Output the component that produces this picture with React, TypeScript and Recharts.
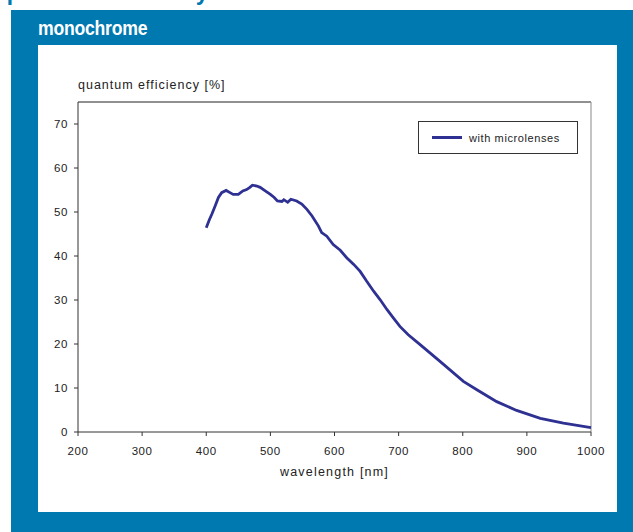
import React from "react";
import { LineChart, Line, XAxis, YAxis, ReferenceLine } from "recharts";

const wavelengths = [
  400, 405, 409, 414, 419, 424, 431, 437, 442, 450, 457, 463, 468, 472, 479, 484, 492, 500, 506, 511,
  518, 521, 527, 532, 541, 549, 557, 565, 575, 580, 588, 598, 609, 619, 630, 640, 650, 661, 671, 682,
  692, 702, 715, 734, 765, 801, 822, 853, 884, 921, 957, 1000,
];
const efficiency = [
  46.4, 48.3, 49.6, 51.4, 53.3, 54.4, 54.9, 54.4, 54.0, 54.0, 54.8, 55.1, 55.6, 56.1, 55.9, 55.6, 54.8, 54.0, 53.3, 52.5,
  52.4, 52.8, 52.2, 52.9, 52.5, 51.8, 50.6, 49.1, 46.8, 45.3, 44.5, 42.6, 41.3, 39.6, 38.1, 36.5, 34.3, 32.0, 30.1, 27.8,
  25.9, 24.0, 22.1, 19.8, 16.0, 11.5, 9.6, 6.9, 4.9, 3.1, 2.0, 1.0,
];
const xTicks = [200, 300, 400, 500, 600, 700, 800, 900, 1000];
const yTicks = [0, 10, 20, 30, 40, 50, 60, 70];
const seriesName = "with microlenses";

const data = wavelengths.map((w, i) => ({ wl: w, qe: efficiency[i] }));

const BLUE = "#0078b0";
const LINE = "#2e3192";
const FONT = "'Liberation Sans', Arial, Helvetica, sans-serif";

// legend drawn as a plain box over the plot, so it takes no room from the chart
function LegendBox() {
  return (
    <div
      style={{
        position: "absolute",
        left: 380,
        top: 76,
        width: 158,
        height: 31,
        border: "1px solid #333",
        background: "#fff",
        display: "flex",
        alignItems: "center",
        fontFamily: FONT,
        fontSize: 11,
        letterSpacing: 0.6,
        color: "#222",
      }}
    >
      <div style={{ width: 30, height: 3, background: LINE, marginLeft: 13, marginRight: 7 }} />
      <span>{seriesName}</span>
    </div>
  );
}

export default function App() {
  const tick = { fontSize: 11.5, fill: "#222", fontFamily: FONT, letterSpacing: 0.6 };
  return (
    <div style={{ position: "absolute", left: 0, top: 0, width: 633, height: 532, background: "#fff", overflow: "hidden" }}>
      <div
        style={{
          position: "absolute",
          left: -1,
          top: -21,
          fontFamily: FONT,
          fontWeight: "bold",
          fontSize: 23,
          color: BLUE,
          whiteSpace: "nowrap",
        }}
      >
        quantum efficiency
      </div>
      <div style={{ position: "absolute", left: 11, top: 10, width: 622, height: 522, background: BLUE }} />
      <div
        style={{
          position: "absolute",
          left: 38,
          top: 16,
          fontFamily: FONT,
          fontWeight: "bold",
          fontSize: 21,
          color: "#fff",
          letterSpacing: -0.3,
          transform: "scaleX(0.84)",
          transformOrigin: "left center",
          whiteSpace: "nowrap",
        }}
      >
        monochrome
      </div>
      <div style={{ position: "absolute", left: 38, top: 45, width: 579, height: 467, background: "#fff" }}>
        <div
          style={{
            position: "absolute",
            left: 40,
            top: 33,
            fontFamily: FONT,
            fontSize: 12.5,
            letterSpacing: 1,
            color: "#222",
            whiteSpace: "nowrap",
          }}
        >
          quantum efficiency [%]
        </div>
        <div
          style={{
            position: "absolute",
            left: 40,
            width: 513,
            top: 420,
            textAlign: "center",
            fontFamily: FONT,
            fontSize: 12.5,
            letterSpacing: 1.2,
            color: "#222",
          }}
        >
          wavelength [nm]
        </div>
        <LineChart width={579} height={467} data={data} margin={{ top: 57, right: 26, left: 0, bottom: 50 }}>
          <XAxis
            dataKey="wl"
            type="number"
            domain={[200, 1000]}
            ticks={xTicks}
            interval={0}
            tick={tick}
            tickSize={4}
            tickMargin={11}
            height={30}
            stroke="#333"
            tickLine={{ stroke: "#333" }}
          />
          <YAxis
            type="number"
            domain={[0, 75]}
            ticks={yTicks}
            interval={0}
            tick={tick}
            tickSize={4}
            tickMargin={6}
            width={40}
            stroke="#333"
          />
          <ReferenceLine y={75} stroke="#222" strokeWidth={1} />
          <ReferenceLine x={1000} stroke="#888" strokeWidth={1} />
          <Line
            dataKey="qe"
            name={seriesName}
            type="linear"
            stroke={LINE}
            strokeWidth={2.8}
            dot={false}
            isAnimationActive={false}
          />
        </LineChart>
        <LegendBox />
      </div>
    </div>
  );
}
